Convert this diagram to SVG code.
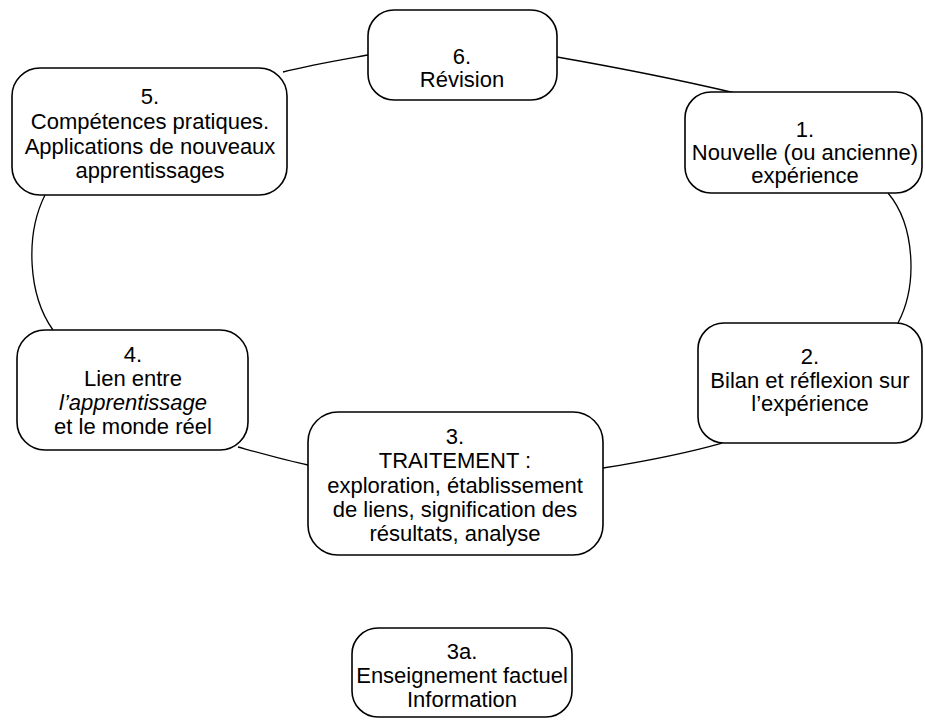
<svg xmlns="http://www.w3.org/2000/svg" width="925" height="720" viewBox="0 0 925 720">
<style>
.box{fill:#fff;stroke:#000;stroke-width:1.6}
.con{fill:none;stroke:#000;stroke-width:1.3}
text{font-family:"Liberation Sans",Arial,sans-serif;font-size:22px;fill:#000;text-anchor:middle}
.it{font-style:italic}
</style>
<rect width="925" height="720" fill="#fff"/>
<g id="connectors">
<path class="con" d="M368,55 C340,60 310,65 283,72"/>
<path class="con" d="M557,57 C620,68 680,80 735,93"/>
<path class="con" d="M888,193 C915,225 918,285 898,323"/>
<path class="con" d="M722,443 C680,455 640,462 603,468"/>
<path class="con" d="M308,465 C285,460 260,453 238,447"/>
<path class="con" d="M53,330 C28,295 25,235 45,195"/>
</g>
<g id="n6">
<rect class="box" x="368" y="10" width="189" height="90" rx="26"/>
<text x="462" y="64">6.</text>
<text x="462" y="87">Révision</text>
</g>
<g id="n5">
<rect class="box" x="12" y="68" width="275" height="127" rx="28"/>
<text x="150" y="104">5.</text>
<text x="150" y="129">Compétences pratiques.</text>
<text x="150" y="154">Applications de nouveaux</text>
<text x="150" y="178">apprentissages</text>
</g>
<g id="n1">
<rect class="box" x="685" y="92" width="237" height="101" rx="26"/>
<text x="805" y="137">1.</text>
<text x="805" y="160">Nouvelle (ou ancienne)</text>
<text x="805" y="183">expérience</text>
</g>
<g id="n2">
<rect class="box" x="698" y="323" width="224" height="120" rx="26"/>
<text x="810" y="364">2.</text>
<text x="810" y="388">Bilan et réflexion sur</text>
<text x="810" y="411">l’expérience</text>
</g>
<g id="n4">
<rect class="box" x="17" y="330" width="231" height="120" rx="28"/>
<text x="133" y="362">4.</text>
<text x="133" y="386">Lien entre</text>
<text x="133" y="410" class="it">l’apprentissage</text>
<text x="133" y="434">et le monde réel</text>
</g>
<g id="n3">
<rect class="box" x="308" y="412" width="295" height="143" rx="30"/>
<text x="455" y="444">3.</text>
<text x="455" y="468">TRAITEMENT :</text>
<text x="455" y="493">exploration, établissement</text>
<text x="455" y="517">de liens, signification des</text>
<text x="455" y="541">résultats, analyse</text>
</g>
<g id="n3a">
<rect class="box" x="352" y="628" width="220" height="89" rx="26"/>
<text x="462" y="659">3a.</text>
<text x="462" y="683">Enseignement factuel</text>
<text x="462" y="707">Information</text>
</g>
</svg>
